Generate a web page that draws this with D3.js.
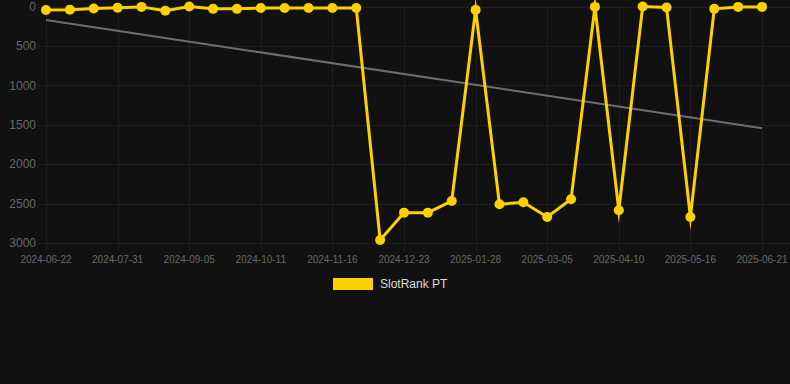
<!DOCTYPE html>
<html>

<head>
    <title>SlotRank PT</title>
    <script src="https://d3js.org/d3.v7.min.js"></script>
    <style>
        body {
            margin: 0;
            background: #111111;
        }

        .grid line {
            stroke: #1f1f1f;
            stroke-width: 1px;
        }

        .tick-label {
            font-family: "Liberation Sans", Arial, sans-serif;
            fill: #686868;
        }

        .rank-line {
            fill: none;
            stroke: #ffd000;
            stroke-width: 3px;
            stroke-linejoin: miter;
            stroke-miterlimit: 10;
        }

        .trend {
            fill: none;
            stroke: #6e6e6e;
            stroke-width: 2px;
        }

        .legend text {
            font: 12px "Liberation Sans", Arial, sans-serif;
            fill: #dddddd;
        }
    </style>
</head>

<body>
    <script>
        // dates, one point every ~12 days (only every 3rd is labelled)
        var dates = [
            "2024-06-22", "2024-07-05", "2024-07-18",
            "2024-07-31", "2024-08-12", "2024-08-24",
            "2024-09-05", "2024-09-17", "2024-09-29",
            "2024-10-11", "2024-10-23", "2024-11-04",
            "2024-11-16", "2024-11-28", "2024-12-11",
            "2024-12-23", "2025-01-04", "2025-01-16",
            "2025-01-28", "2025-02-09", "2025-02-21",
            "2025-03-05", "2025-03-17", "2025-03-29",
            "2025-04-10", "2025-04-22", "2025-05-04",
            "2025-05-16", "2025-05-28", "2025-06-09",
            "2025-06-21"
        ];

        var ranks = [
            45, 40, 25, 15, 5, 55, 1, 30, 30, 20, 20, 20, 20, 20,
            2962, 2615, 2615, 2467, 43, 2509, 2483, 2670, 2445,
            5, 2585, 1, 12, 2670, 30, 5, 5
        ];

        var trendStart = 170, trendEnd = 1544;
        var yTicks = [0, 500, 1000, 1500, 2000, 2500, 3000];

        var W = 790, H = 384;

        var svg = d3.select("body").append("svg")
            .attr("width", W)
            .attr("height", H);

        var x = d3.scalePoint()
            .domain(dates)
            .range([46, 762]);

        var y = d3.scaleLinear()
            .domain([0, 3000])
            .range([6.5, 243]);

        // horizontal grid
        svg.append("g").attr("class", "grid")
            .selectAll("line")
            .data(yTicks)
            .enter()
            .append("line")
            .attr("x1", 38)
            .attr("x2", W)
            .attr("y1", d => Math.round(y(d)) + 0.5)
            .attr("y2", d => Math.round(y(d)) + 0.5);

        // vertical grid at labelled dates
        var xTicks = dates.filter((d, i) => i % 3 === 0);

        svg.append("g").attr("class", "grid")
            .selectAll("line")
            .data(xTicks)
            .enter()
            .append("line")
            .attr("x1", d => Math.round(x(d)) + 0.5)
            .attr("x2", d => Math.round(x(d)) + 0.5)
            .attr("y1", y(0))
            .attr("y2", y(3000) + 8);

        svg.append("g")
            .selectAll("text")
            .data(yTicks)
            .enter()
            .append("text")
            .attr("class", "tick-label")
            .attr("x", 36)
            .attr("y", d => y(d))
            .attr("dy", "0.35em")
            .attr("text-anchor", "end")
            .style("font-size", "12px")
            .text(d => d);

        svg.append("g")
            .selectAll("text")
            .data(xTicks)
            .enter()
            .append("text")
            .attr("class", "tick-label")
            .attr("x", d => x(d))
            .attr("y", 263)
            .attr("text-anchor", "middle")
            .style("font-size", "10px")
            .text(d => d);

        // trend line
        svg.append("line")
            .attr("class", "trend")
            .attr("x1", x(dates[0]))
            .attr("y1", y(trendStart))
            .attr("x2", x(dates[dates.length - 1]))
            .attr("y2", y(trendEnd));

        var line = d3.line()
            .x((d, i) => x(dates[i]))
            .y(d => y(d));

        svg.append("path")
            .datum(ranks)
            .attr("class", "rank-line")
            .attr("d", line);

        svg.append("g")
            .selectAll("circle")
            .data(ranks)
            .enter()
            .append("circle")
            .attr("cx", (d, i) => x(dates[i]))
            .attr("cy", d => y(d))
            .attr("r", 5)
            .style("fill", "#ffd000");

        // legend
        var legend = svg.append("g").attr("class", "legend");

        legend.append("rect")
            .attr("x", 333)
            .attr("y", 278)
            .attr("width", 40)
            .attr("height", 12)
            .style("fill", "#ffd000");

        legend.append("text")
            .attr("x", 380)
            .attr("y", 284)
            .attr("dy", "0.35em")
            .text("SlotRank PT");
    </script>
</body>

</html>
